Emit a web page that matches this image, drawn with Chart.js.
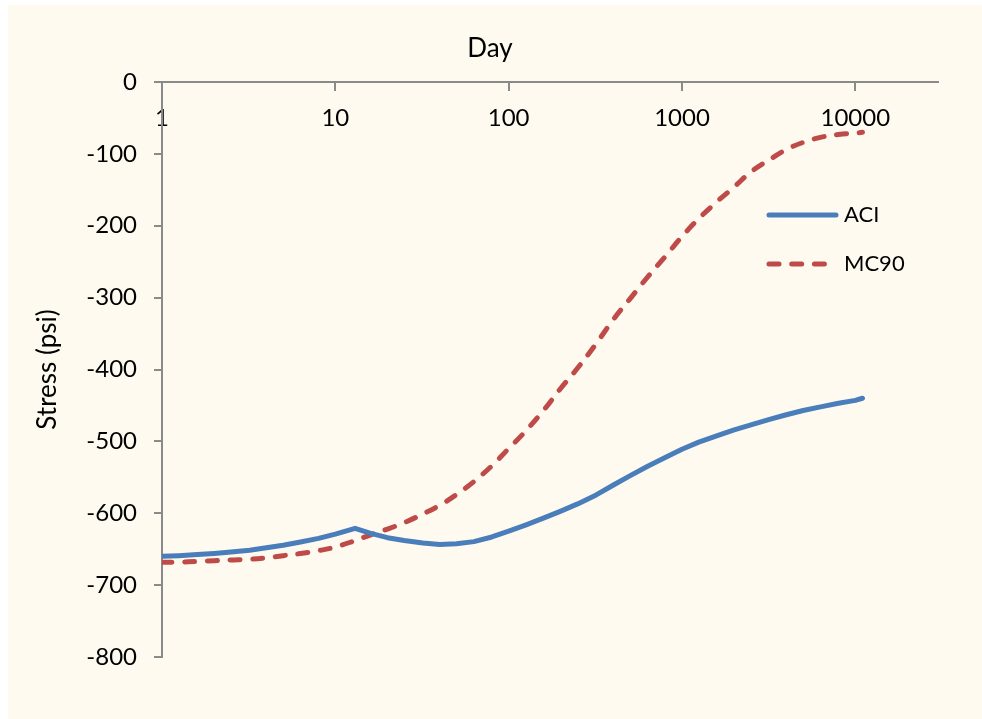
<!DOCTYPE html>
<html>
<head>
<meta charset="utf-8">
<script src="https://cdn.jsdelivr.net/npm/chart.js@4.4.1/dist/chart.umd.min.js"></script>
<style>
    body { margin: 0; background: #ffffff; }
    #wrap {
        position: absolute;
        left: 8px;
        top: 5px;
        width: 974px;
        height: 714px;
        background: #fefaf0;
    }
</style>
</head>
<body>
<div id="wrap"><canvas id="stressChart" width="974" height="714"></canvas></div>
<script>
// age in days and computed stress (psi) for both creep models
var days = [1, 1.25, 1.6, 2, 2.5, 3.2, 4, 5, 6.3, 8, 10, 13, 16, 20, 25, 32, 40, 50, 63, 80,
    100, 125, 160, 200, 250, 320, 400, 500, 630, 800, 1000, 1250, 1600, 2000, 2500, 3200,
    4000, 5000, 6300, 8000, 10000, 11000];
var aciStress = [-660, -659, -657.5, -656, -654, -651.5, -648, -644.5, -640, -635, -629, -621, -628, -634, -638, -641.5, -643.5, -642.5, -639.5, -633,
    -625, -616.5, -606.5, -597, -587, -574.5, -561, -548, -535, -522.5, -511, -501, -492, -484, -477, -469.5,
    -463, -457, -452, -447, -443, -440];
var mc90Stress = [-668, -668, -667, -666, -665, -664, -662, -659, -656, -652, -647, -638, -630, -622, -613, -601, -589, -574, -556, -534,
    -510, -486, -456, -426, -398, -364, -331, -302, -272, -243, -215, -190, -166, -146, -125, -108,
    -94, -84, -77, -73, -71, -70];
var dayTicks = [1, 10, 100, 1000, 10000];

document.addEventListener("DOMContentLoaded", function () {
    var axisGray = '#8a8a8a';
    var tickFont = { family: 'Lato', size: 24 };
    var titleFont = { family: 'Lato', size: 26, weight: 'normal' };

    function points(values) {
        return days.map(function (d, i) { return { x: d, y: values[i] }; });
    }

    // legend drawn inside the plot, right hand side
    var lineKey = {
        id: 'lineKey',
        afterDatasetsDraw: function (chart) {
            var ctx = chart.ctx;
            chart.data.datasets.forEach(function (ds, i) {
                var y = 210 + i * 49;
                ctx.save();
                ctx.strokeStyle = ds.borderColor;
                ctx.lineWidth = ds.borderWidth;
                ctx.lineCap = 'round';
                ctx.setLineDash(ds.borderDash || []);
                ctx.beginPath();
                ctx.moveTo(761, y);
                ctx.lineTo(828, y);
                ctx.stroke();
                ctx.setLineDash([]);
                ctx.fillStyle = '#000';
                ctx.font = '22px Lato';
                ctx.textBaseline = 'middle';
                ctx.fillText(ds.label, 836, y);
                ctx.restore();
            });
        }
    };

    function draw() {
        var ctx = document.getElementById('stressChart').getContext('2d');
        new Chart(ctx, {
            type: 'line',
            data: {
                datasets: [{
                    label: 'ACI',
                    data: points(aciStress),
                    borderColor: '#4a7ebb',
                    borderWidth: 5,
                    borderCapStyle: 'round',
                    borderJoinStyle: 'round',
                    tension: 0,
                    pointRadius: 0
                }, {
                    label: 'MC90',
                    data: points(mc90Stress),
                    borderColor: '#be4b48',
                    borderWidth: 5,
                    borderDash: [10, 12.7],
                    borderCapStyle: 'round',
                    tension: 0.4,
                    pointRadius: 0
                }]
            },
            options: {
                responsive: false,
                animation: false,
                layout: { padding: { left: 34, right: 44, top: 0, bottom: 62 } },
                plugins: {
                    legend: { display: false },
                    tooltip: { enabled: false },
                    title: {
                        display: true,
                        text: 'Day',
                        color: '#000',
                        font: titleFont,
                        padding: { top: 27.8, bottom: 18 }
                    }
                },
                scales: {
                    x: {
                        type: 'logarithmic',
                        position: { y: 0 },
                        min: 1,
                        max: 30000,
                        afterBuildTicks: function (scale) {
                            scale.ticks = dayTicks.map(function (v) { return { value: v }; });
                        },
                        afterFit: function (scale) { scale.height = 0; },
                        ticks: {
                            color: '#000',
                            font: tickFont,
                            padding: 14,
                            maxRotation: 0,
                            autoSkip: false,
                            callback: function (v) { return String(v); }
                        },
                        grid: { drawOnChartArea: false, tickLength: 8, color: axisGray, lineWidth: 2 },
                        border: { color: axisGray, width: 2 }
                    },
                    y: {
                        min: -800,
                        max: 0,
                        afterFit: function (scale) { scale.width = 120; },
                        ticks: { stepSize: 100, color: '#000', font: tickFont, padding: 17 },
                        grid: { drawOnChartArea: false, tickLength: 8, color: axisGray, lineWidth: 2 },
                        border: { color: axisGray, width: 2 },
                        title: {
                            display: true,
                            text: 'Stress (psi)',
                            color: '#000',
                            font: titleFont,
                            padding: { top: -10, bottom: 0 }
                        }
                    }
                }
            },
            plugins: [lineKey]
        });
    }

    if (document.fonts && document.fonts.load) {
        document.fonts.load('24px Lato').then(draw, draw);
    } else {
        draw();
    }
});
</script>
</body>
</html>
